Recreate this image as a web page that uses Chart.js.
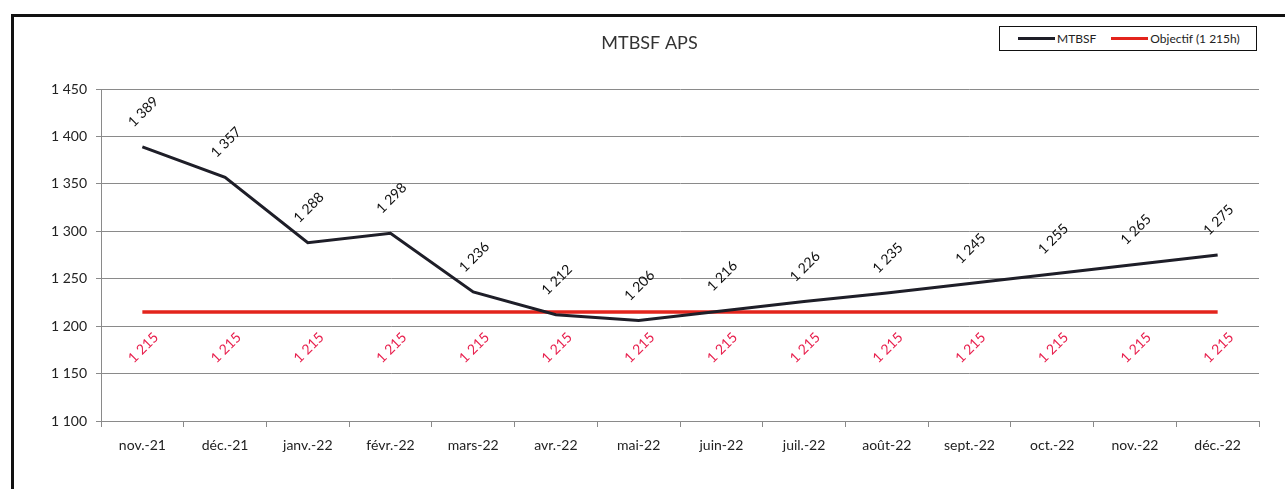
<!DOCTYPE html>
<html>
<head>
<meta charset="utf-8">
<script src="https://cdn.jsdelivr.net/npm/chart.js@4/dist/chart.umd.min.js"></script>
<style>
  html, body { margin: 0; padding: 0; background: #fff; overflow: hidden; }
  #wrap { position: relative; width: 1285px; height: 489px; }
  #frame { position: absolute; left: 11px; top: 14px; width: 1290px; height: 500px;
           border-top: 3px solid #111; border-left: 3px solid #111; pointer-events: none; }
  #legend { position: absolute; left: 999px; top: 26px; width: 256px; height: 23px;
            border: 1px solid #111; background: #fff; font-family: Lato, sans-serif;
            font-size: 12px; color: #222; display: flex; align-items: center; }
  .sw { display: inline-block; width: 37px; height: 3px; margin-right: 2px; }
  .it { display: inline-flex; align-items: center; }
</style>
</head>
<body>
<div id="wrap">
  <canvas id="c" width="1285" height="489"></canvas>
  <div id="frame"></div>
  <div id="legend">
    <span class="it" style="margin-left:18px"><span class="sw" style="background:#1e1e28"></span>MTBSF</span>
    <span class="it" style="margin-left:15px"><span class="sw" style="background:#e3241c"></span>Objectif (1 215h)</span>
  </div>
</div>
<script>
const categories = ['nov.-21','déc.-21','janv.-22','févr.-22','mars-22','avr.-22','mai-22','juin-22','juil.-22','août-22','sept.-22','oct.-22','nov.-22','déc.-22'];
const mtbsfValues = [1389, 1357, 1288, 1298, 1236, 1212, 1206, 1216, 1226, 1235, 1245, 1255, 1265, 1275];
const objectifValues = [1215, 1215, 1215, 1215, 1215, 1215, 1215, 1215, 1215, 1215, 1215, 1215, 1215, 1215];
const yMin = 1100, yMax = 1450, yStep = 50;
const chartTitle = 'MTBSF APS';

const fmt = v => String(v).replace(/\B(?=(\d{3})+(?!\d))/g, ' ');
const FONT = 'Lato, sans-serif';

const labelPlugin = {
  id: 'rotLabels',
  afterDatasetsDraw(chart) {
    const ctx = chart.ctx;
    chart.data.datasets.forEach((ds, i) => {
      const meta = chart.getDatasetMeta(i);
      const off = ds.labelOffset;
      ctx.save();
      ctx.font = '14px ' + FONT;
      ctx.fillStyle = ds.labelColor;
      ctx.textAlign = 'center';
      ctx.textBaseline = 'middle';
      meta.data.forEach((pt, j) => {
        ctx.save();
        ctx.translate(pt.x + 1, pt.y + off);
        ctx.rotate(-Math.PI / 4);
        ctx.fillText(fmt(ds.data[j]), 0, 0);
        ctx.restore();
      });
      ctx.restore();
    });
  }
};

new Chart(document.getElementById('c'), {
  type: 'line',
  data: {
    labels: categories,
    datasets: [
      { label: 'MTBSF', data: mtbsfValues, borderColor: '#1e1e28', borderWidth: 3,
        pointRadius: 0, tension: 0, labelColor: '#111', labelOffset: -35 },
      { label: 'Objectif (1 215h)', data: objectifValues, borderColor: '#e3241c', borderWidth: 3.5,
        pointRadius: 0, tension: 0, labelColor: '#e8204e', labelOffset: 36 }
    ]
  },
  options: {
    responsive: false,
    animation: false,
    layout: { padding: { left: 40, right: 26, top: 0, bottom: 0 } },
    plugins: {
      legend: { display: false },
      tooltip: { enabled: false },
      title: { display: true, text: chartTitle, color: '#333',
               font: { family: FONT, size: 18, weight: 'normal' },
               padding: { top: 32, bottom: 35.4 } }
    },
    scales: {
      x: {
        offset: true,
        grid: { display: true, drawOnChartArea: false, offset: true, color: '#8a8a8a', tickLength: 6 },
        border: { color: '#8a8a8a' },
        ticks: { color: '#222', font: { family: FONT, size: 14 }, padding: 10, maxRotation: 0, autoSkip: false },
        afterFit(s) { s.height = 68; }
      },
      y: {
        min: yMin, max: yMax,
        grid: { color: '#8a8a8a', tickLength: 5 },
        border: { color: '#8a8a8a' },
        ticks: { stepSize: yStep, color: '#222', font: { family: FONT, size: 14 }, padding: 9,
                 callback: v => fmt(v) },
        afterFit(s) { s.width = 61; }
      }
    }
  },
  plugins: [labelPlugin]
});
</script>
</body>
</html>
